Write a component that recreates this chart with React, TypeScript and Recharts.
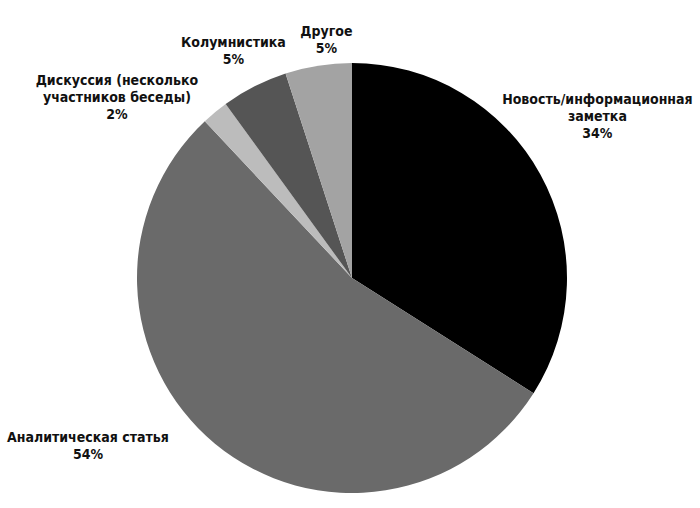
import React from "react";
import { PieChart, Pie, Cell } from "recharts";

const categories = [
  "Новость/информационная заметка",
  "Аналитическая статья",
  "Дискуссия (несколько участников беседы)",
  "Колумнистика",
  "Другое",
];
const shares = [34, 54, 2, 5, 5];
const labelLines = [
  ["Новость/информационная", "заметка"],
  ["Аналитическая статья"],
  ["Дискуссия (несколько", "участников беседы)"],
  ["Колумнистика"],
  ["Другое"],
];
const colors = ["#000000", "#6a6a6a", "#bcbcbc", "#555555", "#a3a3a3"];
// label offset from the slice's outer edge midpoint
const labelOffsets = [
  [57, -58],
  [-127, 2],
  [-98, -15],
  [-21, -36],
  [8, -26],
];

const data = categories.map((name, i) => ({ name, value: shares[i] }));

const RAD = Math.PI / 180;
const LINE = 17;

function renderLabel(props: any) {
  const { cx, cy, midAngle, outerRadius, index, value } = props;
  const px = cx + outerRadius * Math.cos(-midAngle * RAD);
  const py = cy + outerRadius * Math.sin(-midAngle * RAD);
  const x = px + labelOffsets[index][0];
  const lines = [...labelLines[index], `${value}%`];
  const yCenter = py + labelOffsets[index][1];
  const y0 = yCenter - ((lines.length - 1) * LINE) / 2;
  return (
    <text
      x={x}
      y={y0}
      textAnchor="middle"
      dominantBaseline="central"
      fill="#111"
      fontFamily="'DejaVu Sans Condensed', 'DejaVu Sans', sans-serif"
      fontStretch="condensed"
      fontWeight="bold"
      fontSize={14}
    >
      {lines.map((l, i) => (
        <tspan key={i} x={x} dy={i === 0 ? 0 : LINE}>
          {l}
        </tspan>
      ))}
    </text>
  );
}

export default function App() {
  return (
    <div style={{ position: "absolute", left: 0, top: 0, background: "#fff" }}>
      <PieChart width={700} height={508}>
        <Pie
          data={data}
          dataKey="value"
          nameKey="name"
          cx={347}
          cy={273}
          outerRadius={215}
          startAngle={90}
          endAngle={-270}
          stroke="none"
          label={renderLabel}
          labelLine={false}
          isAnimationActive={false}
        >
          {data.map((d, i) => (
            <Cell key={d.name} fill={colors[i]} />
          ))}
        </Pie>
      </PieChart>
    </div>
  );
}
